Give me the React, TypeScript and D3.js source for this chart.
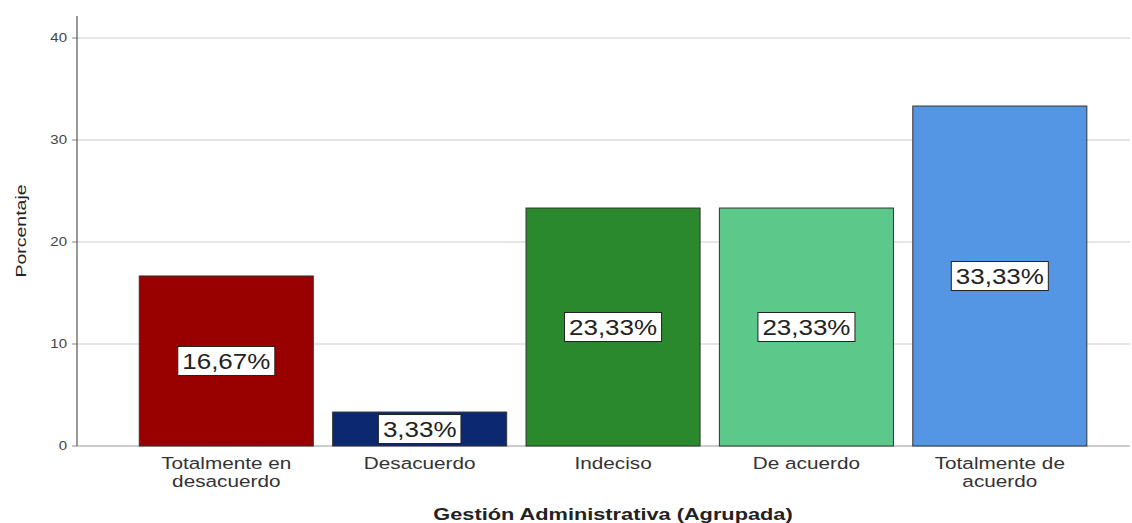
import React from "react";
import * as d3 from "d3";

const categories = ["Totalmente en\ndesacuerdo", "Desacuerdo", "Indeciso", "De acuerdo", "Totalmente de\nacuerdo"];
const values = [16.67, 3.33, 23.33, 23.33, 33.33];
const colors = ["#990000", "#0b2870", "#2a892d", "#5cc98a", "#5596e4"];
const yTicks = [0, 10, 20, 30, 40];

type TProps = { x: number; y: number; k: number; size: number; fill: string; bold?: boolean; rotate?: number; children: React.ReactNode };
function SText({ x, y, k, size, fill, bold, rotate = 0, children, anchor = "middle" }: TProps & { anchor?: string }) {
  return (
    <text
      transform={`translate(${x},${y}) rotate(${rotate}) scale(${k},1)`}
      dy="0.35em"
      textAnchor={anchor}
      fontSize={size}
      fontWeight={bold ? "bold" : "normal"}
      fill={fill}
    >
      {children}
    </text>
  );
}

export default function App() {
  const W = 1132, H = 523;
  const axisX = 77;
  const y = d3.scaleLinear().domain([0, 40]).range([446, 38]);
  const x = d3.scaleBand<string>().domain(categories).range([129.6, 1096.5]).paddingInner(0.1).paddingOuter(0.05);
  const fmt = (v: number) => v.toFixed(2).replace(".", ",") + "%";
  const charW = (ch: string) => (ch === "," ? 0.278 : ch === "%" ? 0.889 : 0.556);
  const lk = 1.18, ls = 22;
  return (
    <svg width={W} height={H} style={{ position: "absolute", left: 0, top: 0, background: "#fff" }} fontFamily="'Liberation Sans', Arial, sans-serif">
      {yTicks.map((t) => (
        <g key={t}>
          {t > 0 && <line x1={axisX} x2={1130} y1={y(t)} y2={y(t)} stroke="#dcdcdc" strokeWidth={1.5} />}
          <line x1={axisX - 5} x2={axisX} y1={y(t)} y2={y(t)} stroke="#888" />
          <SText x={67} y={y(t)} k={1.25} size={12} fill="#444" anchor="end">{t}</SText>
        </g>
      ))}
      <line x1={axisX} x2={axisX} y1={16} y2={446} stroke="#555" strokeWidth={1.2} />
      <line x1={axisX} x2={1130} y1={446} y2={446} stroke="#999" strokeWidth={1.2} />
      {categories.map((c, i) => {
        const bx = x(c)!;
        const bw = x.bandwidth();
        const top = y(values[i]);
        const cy = (top + y(0)) / 2;
        const label = fmt(values[i]);
        const lw = label.split("").reduce((s, ch) => s + charW(ch), 0) * ls * lk + 9;
        return (
          <g key={c}>
            <rect x={bx} y={top} width={bw} height={y(0) - top} fill={colors[i]} stroke="#333" strokeWidth={1} />
            <rect x={bx + bw / 2 - lw / 2} y={cy - 14.5} width={lw} height={29} fill="#fff" stroke="#222" strokeWidth={1} />
            <SText x={bx + bw / 2} y={cy + 0.5} k={lk} size={ls} fill="#222">{label}</SText>
            {c.split("\n").map((ln, j) => (
              <SText key={j} x={bx + bw / 2} y={463 + j * 18} k={1.22} size={17} fill="#333">{ln}</SText>
            ))}
          </g>
        );
      })}
      <SText x={21} y={231} k={1.3} size={15} fill="#222" rotate={-90}>Porcentaje</SText>
      <SText x={613} y={514} k={1.28} size={17} fill="#222" bold>Gestión Administrativa (Agrupada)</SText>
    </svg>
  );
}
